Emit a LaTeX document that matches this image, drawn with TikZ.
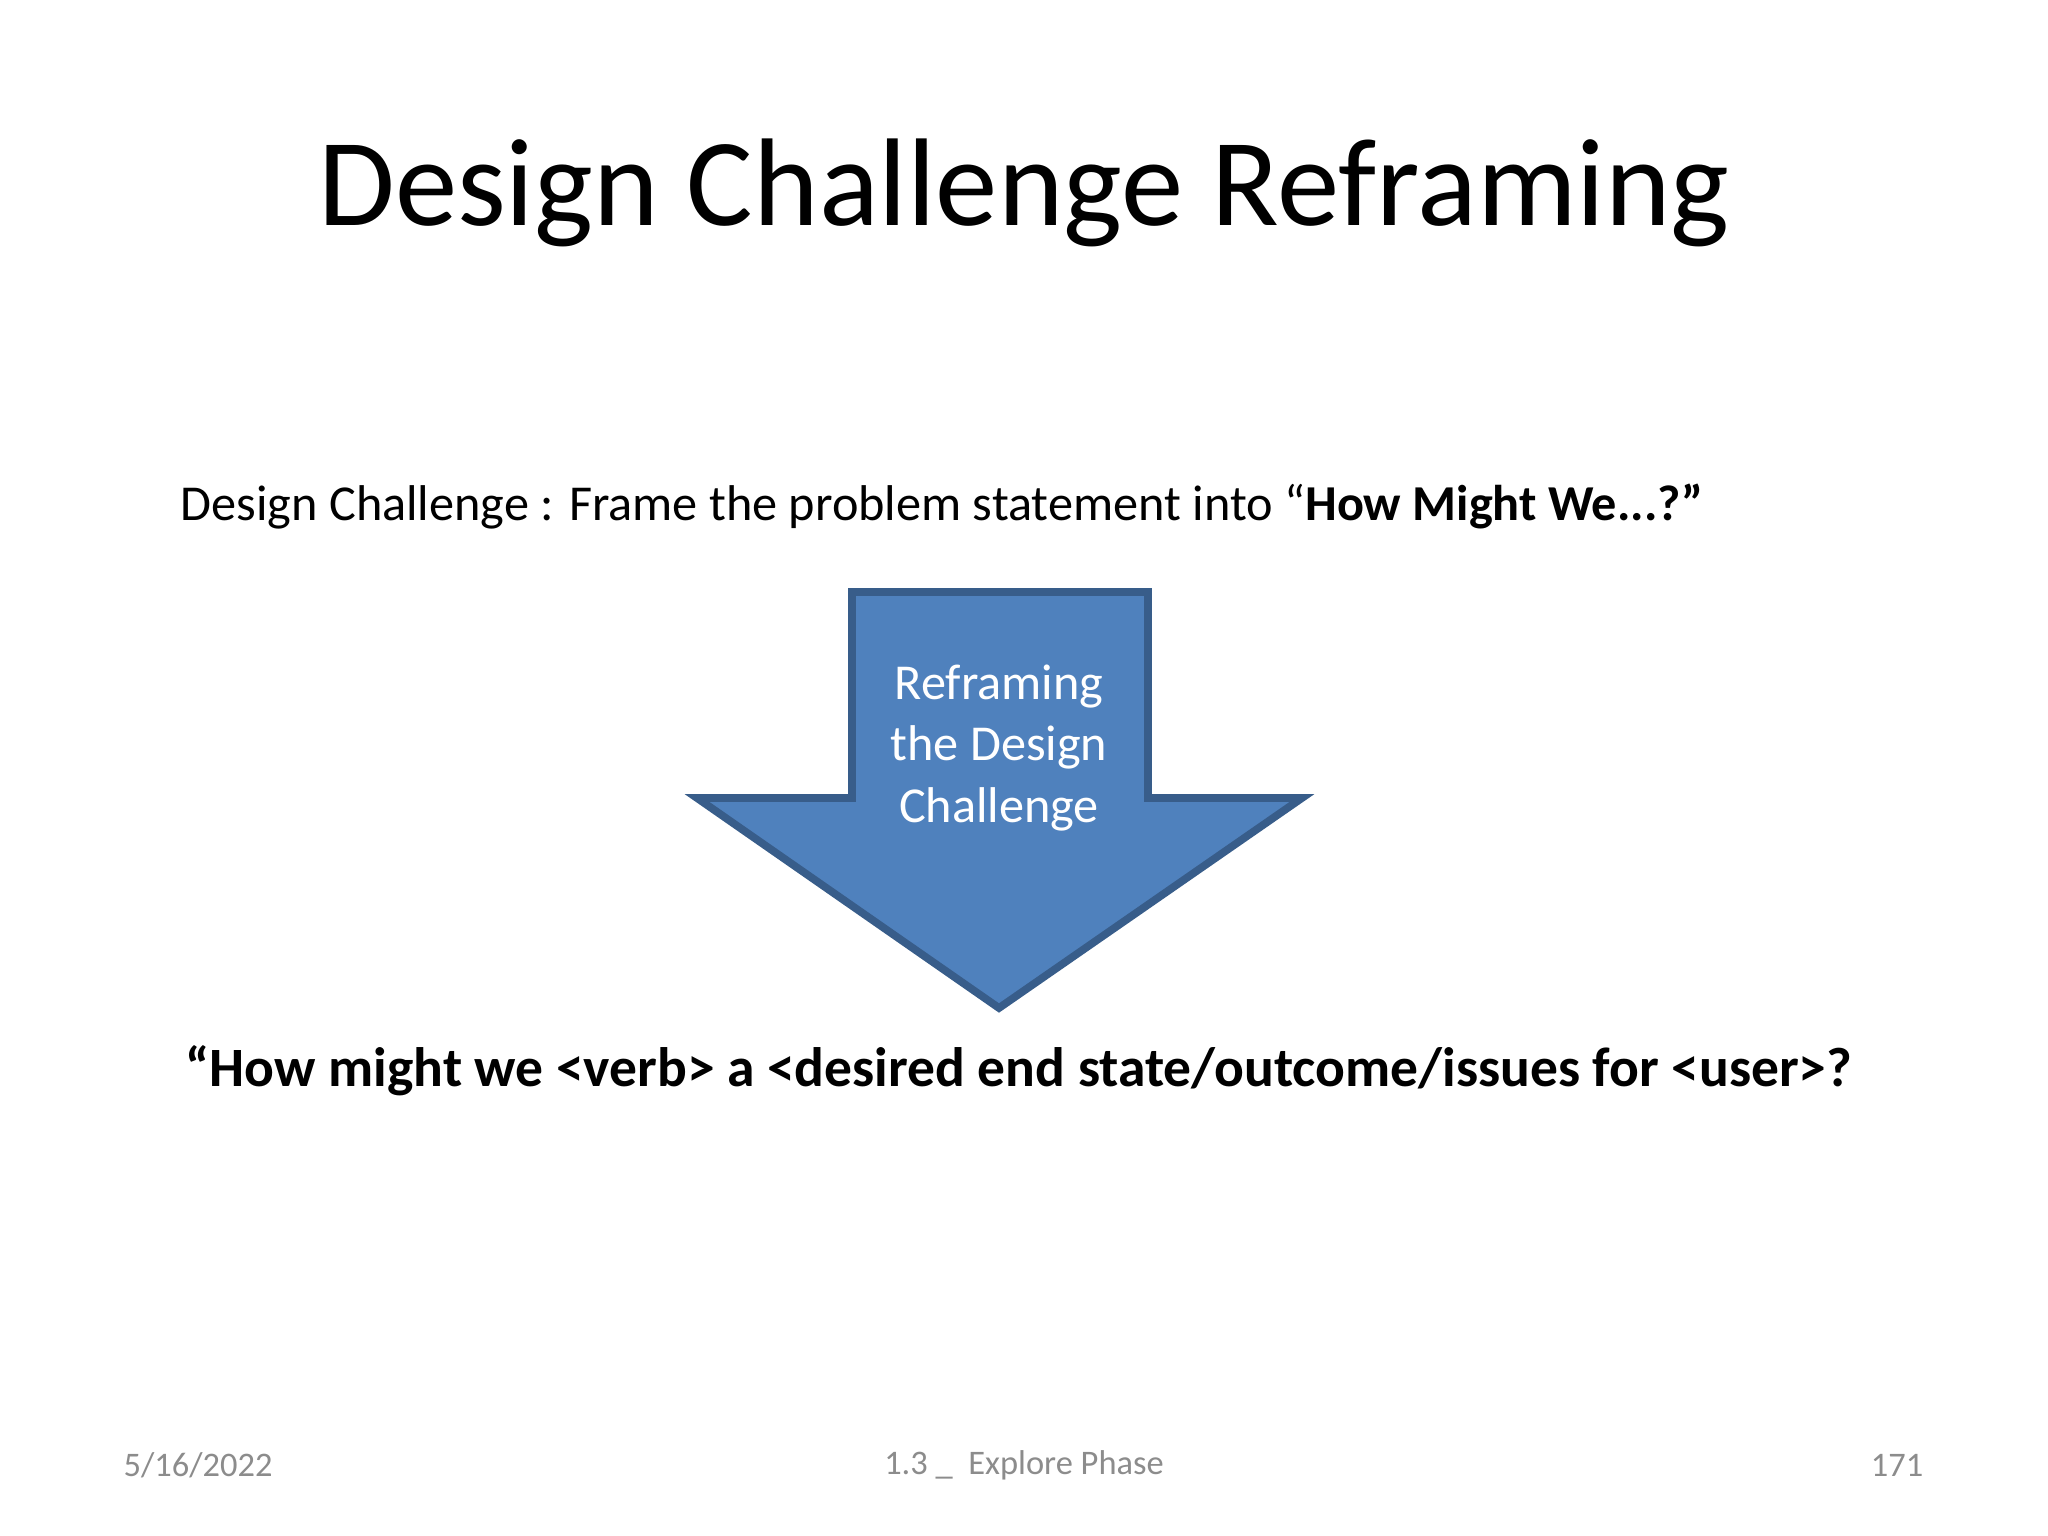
\documentclass[tikz,border=0pt]{standalone}
\usepackage{fontspec}
\setmainfont{Carlito}
\definecolor{afill}{HTML}{4F81BD}
\definecolor{aline}{HTML}{385D8A}
\definecolor{foot}{HTML}{8C8C8C}
\begin{document}
\begin{tikzpicture}[x=1cm,y=-1cm,
  foottext/.style={font=\fontsize{9.8}{12}\selectfont,text=foot,inner sep=0pt}]
\useasboundingbox (0,0) rectangle (20.48,15.36);
\node (title) at (10.24,1.93) {\fontsize{35.5}{40}\selectfont Design Challenge Reframing};
\node[anchor=west,inner sep=0pt] (sub) at (1.80,5.07) {\fontsize{14.3}{18}\selectfont Design Challenge : Frame the problem statement into “\textbf{How Might We...?”}};
\draw[aline,line width=2.2pt,fill=afill,line join=miter]
  (8.52,5.92) -- (11.48,5.92) -- (11.48,7.98) -- (13.02,7.98) -- (9.99,10.08)
  -- (6.97,7.98) -- (8.52,7.98) -- cycle;
\node[align=center,text=white,font=\fontsize{14.3}{17.5}\selectfont] (arrowtext) at (9.99,7.48) {Reframing\\the Design\\Challenge};
\node (hmw) at (10.19,10.71) {\fontsize{15.8}{19}\selectfont\bfseries “How might we <verb> a <desired end state/outcome/issues for <user>?};
\node[foottext,anchor=west] (date) at (1.23,14.65) {5/16/2022};
\node[foottext] (phase) at (10.24,14.65) {1.3 \_\ \ Explore Phase};
\node[foottext,anchor=east] (page) at (19.24,14.65) {171};
\end{tikzpicture}
\end{document}
